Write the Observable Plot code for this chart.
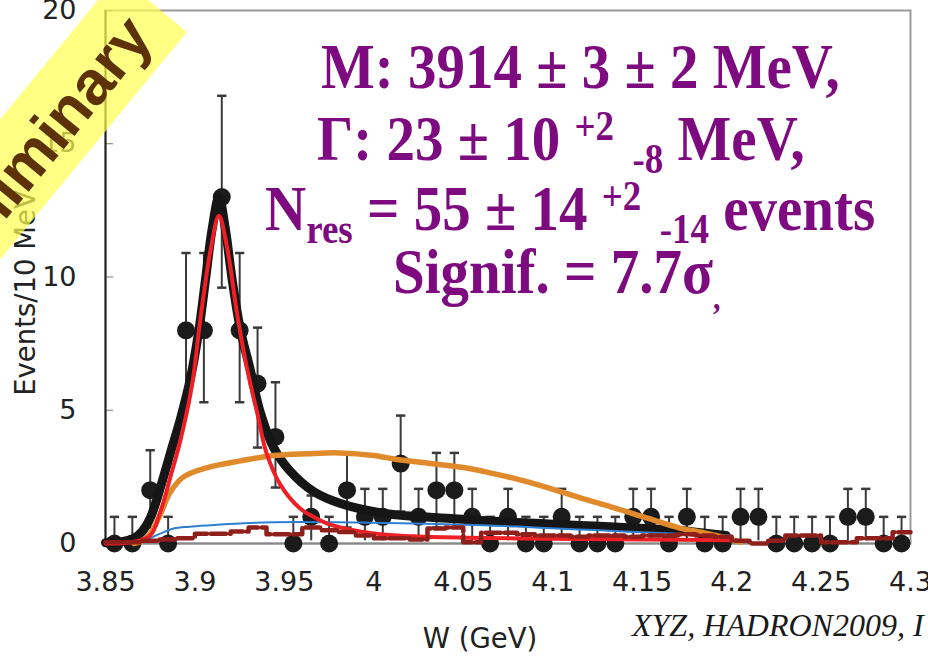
<!DOCTYPE html>
<html>
<head>
<meta charset="utf-8">
<script src="https://cdn.jsdelivr.net/npm/d3@7"></script>
<script src="https://cdn.jsdelivr.net/npm/@observablehq/plot@0.6"></script>
<style>
  html, body { margin: 0; padding: 0; background: #fff; overflow: hidden; }
  #chart { position: relative; width: 928px; height: 664px; }
</style>
</head>
<body>
<div id="chart"></div>
<script>
// ---------------- data ----------------
const binCenters = [3.855, 3.865, 3.875, 3.885, 3.895, 3.905, 3.915, 3.925, 3.935, 3.945,
                    3.955, 3.965, 3.975, 3.985, 3.995, 4.005, 4.015, 4.025, 4.035, 4.045,
                    4.055, 4.065, 4.075, 4.085, 4.095, 4.105, 4.115, 4.125, 4.135, 4.145,
                    4.155, 4.165, 4.175, 4.185, 4.195, 4.205, 4.215, 4.225, 4.235, 4.245,
                    4.255, 4.265, 4.275, 4.285, 4.295];
const counts = [0, 0, 2, 0, 8, 8, 13, 8, 6, 4,
                0, 1, 0, 2, 1, 1, 3, 1, 2, 2,
                1, 0, 1, 0, 0, 1, 0, 0, 0, 1,
                1, 0, 1, 0, 0, 1, 1, 0, 0, 0,
                0, 1, 1, 0, 0];
const errLow = [0, 0, 0.6, 0, 5.3, 5.3, 9.6, 5.3, 3.6, 2.1,
                0, 0.1, 0, 0.6, 0.1, 0.1, 1.2, 0.1, 0.6, 0.6,
                0.1, 0, 0.1, 0, 0, 0.1, 0, 0, 0, 0.1,
                0.1, 0, 0.1, 0, 0, 0.1, 0.1, 0, 0, 0,
                0, 0.1, 0.1, 0, 0];
const errHigh = [1, 1, 3.5, 1, 10.9, 10.9, 16.8, 10.9, 8.1, 6.05,
                 1, 1.8, 1, 3.4, 2.05, 2.05, 4.8, 2.05, 3.4, 3.4,
                 2.05, 1, 2.05, 1, 1, 2.05, 1, 1, 1, 2.05,
                 2.05, 1, 2.05, 1, 1, 2.05, 2.05, 1, 1, 1,
                 1, 2.05, 2.05, 1, 1];
const histValues = [0.05, 0.05, 0.1, 0.15, 0.2, 0.37, 0.37, 0.45, 0.6, 0.35,
                    0.35, 0.6, 0.5, 0.43, 0.3, 0.2, 0.2, 0.15, 0.56, 0.6,
                    0.05, 0.4, 0.4, 0.35, 0.3, 0.3, 0.25, 0.3, 0.3, 0.25,
                    0.3, 0.3, 0.35, 0.3, 0.25, 0.1, 0.0, 0.1, 0.3, 0.3,
                    0.05, 0.05, 0.2, 0.2, 0.42];

// total fit (black)
const blackX = [3.850, 3.860, 3.866, 3.8705, 3.875, 3.8807, 3.8863, 3.892, 3.8975, 3.9022,
                3.9059, 3.9096, 3.9134, 3.917, 3.9208, 3.9255, 3.931, 3.9366, 3.944, 3.9534,
                3.9663, 3.9814, 4.004, 4.022, 4.041, 4.060, 4.090, 4.115, 4.140, 4.171,
                4.183, 4.197];
const blackY = [0.03, 0.08, 0.2, 0.45, 0.95, 2.1, 3.4, 4.7, 6.2, 8.0,
                9.9, 11.8, 13.0, 11.8, 9.9, 8.0, 6.5, 4.9, 3.6, 2.7,
                1.95, 1.5, 1.15, 1.02, 0.95, 0.86, 0.76, 0.68, 0.6, 0.49,
                0.4, 0.3];
// signal (red)
const redX = [3.850, 3.865, 3.875, 3.8807, 3.8863, 3.892, 3.8985, 3.903, 3.9087, 3.9134,
              3.918, 3.9236, 3.929, 3.9348, 3.940, 3.9478, 3.959, 3.9663, 3.974, 3.985,
              4.004, 4.022, 4.050, 4.100, 4.150, 4.200];
const redY = [0.0, 0.05, 0.3, 1.2, 2.5, 3.9, 6.0, 8.4, 11.0, 12.3,
              11.1, 8.6, 6.6, 4.9, 3.4, 2.2, 1.3, 1.0, 0.75, 0.55,
              0.35, 0.27, 0.22, 0.18, 0.15, 0.12];
// background (blue)
const blueX = [3.866, 3.8696, 3.8807, 3.888, 3.897, 3.907, 3.925, 3.944, 3.980, 4.000,
               4.030, 4.050, 4.065, 4.090, 4.115, 4.140, 4.170, 4.200];
const blueY = [0, 0.05, 0.37, 0.56, 0.63, 0.68, 0.75, 0.8, 0.8, 0.78,
               0.74, 0.7, 0.68, 0.6, 0.53, 0.45, 0.37, 0.3];
// alternative curve (orange)
const orangeX = [3.866, 3.870, 3.875, 3.8807, 3.886, 3.8936, 3.907, 3.9255, 3.944, 3.963,
                 3.981, 4.000, 4.013, 4.032, 4.050, 4.065, 4.078, 4.097, 4.115, 4.134,
                 4.153, 4.171, 4.183, 4.200, 4.205];
const orangeY = [0, 0.08, 0.37, 1.1, 1.9, 2.5, 2.85, 3.1, 3.3, 3.37,
                 3.4, 3.3, 3.15, 3.0, 2.85, 2.65, 2.45, 2.1, 1.72, 1.35,
                 0.95, 0.58, 0.42, 0.15, 0.05];

const xTicks = [3.85, 3.9, 3.95, 4, 4.05, 4.1, 4.15, 4.2, 4.25, 4.3];
const yTicks = [0, 5, 10, 15, 20];
const xLabel = "W (GeV)";
const yLabel = "Events/10 MeV";
const caption = "XYZ, HADRON2009, I";

// -------------- tables --------------
const points = binCenters.map((x, i) => ({x, y: counts[i], lo: errLow[i], hi: errHigh[i]}));
const hist = binCenters.map((c, i) => ({x: c - 0.005, y: histValues[i]}));
hist.push({x: binCenters[binCenters.length - 1] + 0.005, y: histValues[histValues.length - 1]});
const curve = (xs, ys) => xs.map((x, i) => ({x, y: ys[i]}));
const capHalf = 0.0026;

const svg = Plot.plot({
  width: 928,
  height: 664,
  marginTop: 10,
  marginBottom: 121,
  marginLeft: 105,
  marginRight: 18,
  style: {fontFamily: "DejaVu Sans", fontSize: "27px", background: "white", color: "#222", overflow: "visible"},
  x: {domain: [3.85, 4.3]},
  y: {domain: [0, 20]},
  marks: [
    Plot.frame({stroke: "#999", strokeWidth: 2}),
    Plot.ruleY([0], {stroke: "#888", strokeWidth: 2}),
    Plot.axisY({ticks: yTicks, tickSize: -8, tickPadding: 37, stroke: "#777", label: null}),
    Plot.axisX({ticks: xTicks, tickSize: 0, tickPadding: 28, tickFormat: d => String(d), label: null}),
    Plot.text([yLabel], {frameAnchor: "left", textAnchor: "middle", rotate: -90, dx: -79, dy: 16, fontSize: 27.5, fill: "#222"}),
    Plot.text([xLabel], {frameAnchor: "bottom", textAnchor: "middle", dx: -28, dy: 104, fontSize: 27.5, fill: "#222"}),
    Plot.ruleX([3.85], {stroke: "#222", strokeWidth: 2}),
    // error bars
    Plot.ruleX(points, {x: "x", y1: "lo", y2: "hi", stroke: "#3a3a3a", strokeWidth: 2}),
    Plot.link(points, {x1: d => d.x - capHalf, x2: d => d.x + capHalf, y1: "hi", y2: "hi", stroke: "#3a3a3a", strokeWidth: 2.5}),
    Plot.link(points.filter(d => d.lo > 0.3), {x1: d => d.x - capHalf, x2: d => d.x + capHalf, y1: "lo", y2: "lo", stroke: "#3a3a3a", strokeWidth: 2.5}),
    // data points
    Plot.dot(points, {x: "x", y: "y", r: 9, fill: "#1b1b1b", stroke: "none"}),
    // curves
    Plot.line(curve(blackX, blackY), {x: "x", y: "y", stroke: "#161616", strokeWidth: 9, curve: "catmull-rom"}),
    Plot.line(curve(blueX, blueY), {x: "x", y: "y", stroke: "#2f7fd0", strokeWidth: 2, curve: "catmull-rom"}),
    Plot.line(curve(orangeX, orangeY), {x: "x", y: "y", stroke: "#e08a2c", strokeWidth: 5.5, curve: "catmull-rom"}),
    Plot.line(curve(redX, redY), {x: "x", y: "y", stroke: "#ee2026", strokeWidth: 4, curve: "catmull-rom"}),
    Plot.line(hist, {x: "x", y: "y", stroke: "#8e1f1a", strokeWidth: 4.5, curve: "step-after", strokeDasharray: "15,4"})
  ]
});
document.getElementById("chart").appendChild(svg);

// -------------- annotations --------------
const root = d3.select(svg);
const purple = "#7e0a80";
const ann = root.append("g")
  .attr("fill", purple)
  .attr("text-anchor", "start")
  .attr("font-family", "'Liberation Serif', 'Times New Roman', serif")
  .attr("font-weight", "bold");

function line(x, baseline, parts) {
  const g = ann.append("g").attr("transform", `translate(0,${baseline}) scale(1,1.12) translate(0,${-baseline})`);
  const t = g.append("text").attr("x", x).attr("y", baseline).attr("text-anchor", "start").attr("xml:space", "preserve");
  parts.forEach(([txt, size, dy]) => {
    t.append("tspan").attr("font-size", size).attr("dy", dy || 0).text(txt);
  });
}
line(321, 88, [["M: 3914 \u00b1 3 \u00b1 2 MeV,", 57]]);
line(317, 160, [["\u0393: 23 \u00b1 10 ", 57], ["+2", 37, -18], ["  ", 37, 18], ["-8", 37, 12], [" MeV,", 57, -12]]);
line(265, 230, [["N", 57], ["res", 37, 12], [" = 55 \u00b1 14 ", 57, -12], ["+2", 37, -18], ["  ", 37, 18], ["-14", 37, 12], [" events", 57, -12]]);
line(393, 293, [["Signif. = 7.7\u03c3", 57], [",", 30, 14]]);

// caption
root.append("text")
  .attr("x", 632).attr("y", 636)
  .attr("text-anchor", "start")
  .attr("font-family", "'Liberation Serif', 'Times New Roman', serif")
  .attr("font-style", "italic")
  .attr("font-size", 32)
  .attr("fill", "#1a1a1a")
  .text(caption);

// "Preliminary" banner
const ang = 50.6 * Math.PI / 180;
const dir = [-Math.cos(ang), Math.sin(ang)];      // toward lower-left
const nrm = [-Math.sin(ang), -Math.cos(ang)];     // toward upper-left
const corner = [187, 32], bw = 89, blen = 420;
const p1 = corner;
const p2 = [corner[0] + nrm[0] * bw, corner[1] + nrm[1] * bw];
const p3 = [p2[0] + dir[0] * blen, p2[1] + dir[1] * blen];
const p4 = [p1[0] + dir[0] * blen, p1[1] + dir[1] * blen];
root.append("polygon")
  .attr("points", [p1, p2, p3, p4].map(p => p.join(",")).join(" "))
  .attr("fill", "#ffff50")
  .attr("fill-opacity", 0.7);
root.append("text")
  .attr("transform", "translate(155,38) rotate(-50.6)")
  .attr("text-anchor", "end")
  .attr("font-family", "'Liberation Sans', Arial, sans-serif")
  .attr("font-weight", "bold")
  .attr("font-size", 62)
  .attr("fill", "#5e3208")
  .text("Preliminary");
</script>
</body>
</html>
